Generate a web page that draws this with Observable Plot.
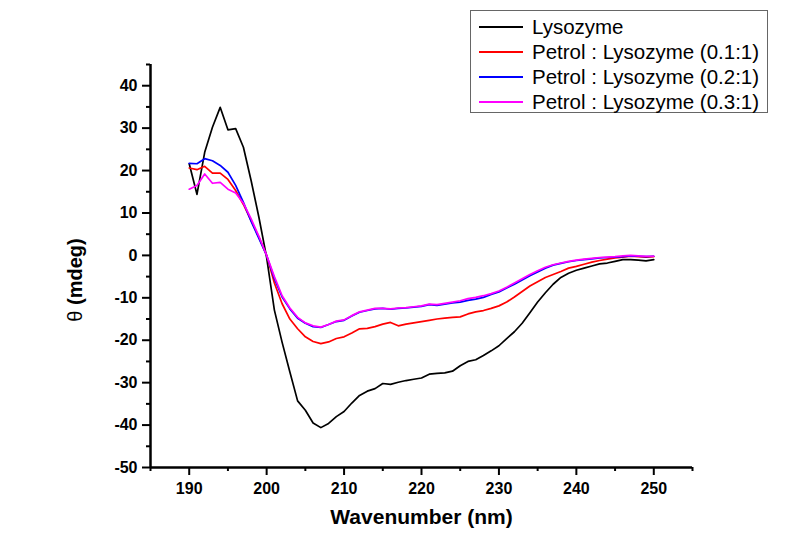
<!DOCTYPE html>
<html>
<head>
<meta charset="utf-8">
<script src="https://cdn.jsdelivr.net/npm/d3@7"></script>
<script src="https://cdn.jsdelivr.net/npm/@observablehq/plot@0.6"></script>
<style>
  body { margin: 0; background: #fff; }
  #wrap { position: relative; width: 787px; height: 551px; font-family: Arial, "Liberation Sans", sans-serif; }
  #legend { position: absolute; left: 470px; top: 10px; width: 298px; height: 103px; border: 1px solid #666; background: #fff; box-sizing: border-box; padding-top: 3px; }
  .row { display: flex; align-items: center; height: 25px; font-size: 20.5px; color: #000; }
  .sw { width: 44px; height: 0; border-top: 2px solid; margin-left: 8px; margin-right: 9px; }
  #ylabel { position: absolute; left: 75px; top: 280px; transform: translate(-50%, -50%) rotate(-90deg); white-space: nowrap; font-size: 20px; font-weight: bold; color: #000; line-height: 1; }
  #ylabel .th { font-weight: normal; }
</style>
</head>
<body>
<div id="wrap"></div>
<script>
const wavelengths = d3.range(190, 251, 1);
const seriesNames = ["Lysozyme", "Petrol : Lysozyme (0.1:1)", "Petrol : Lysozyme (0.2:1)", "Petrol : Lysozyme (0.3:1)"];
const seriesColors = ["#000000", "#ff0000", "#0000ff", "#ff00ff"];

const lysozyme = [21.6,14.4,24.3,30.2,34.9,29.6,29.9,25.5,17.6,9.0,
  -0.5,-12.9,-20.5,-27.5,-34.3,-36.5,-39.5,-40.6,-39.6,-38.0,
  -36.8,-34.8,-33.0,-32.0,-31.4,-30.2,-30.4,-29.9,-29.5,-29.2,
  -28.9,-28.0,-27.8,-27.7,-27.3,-26.0,-25.0,-24.6,-23.6,-22.5,
  -21.3,-19.6,-18.0,-16.0,-13.5,-11.0,-8.8,-6.8,-5.2,-4.2,
  -3.5,-3.0,-2.5,-2.0,-1.8,-1.4,-1.0,-1.0,-1.1,-1.3,-1.0];
const petrol01 = [20.6,20.2,21.0,19.4,19.4,17.9,15.3,12.0,8.2,4.3,
  0.0,-6.5,-11.4,-15.0,-17.3,-19.2,-20.3,-20.8,-20.4,-19.6,
  -19.2,-18.3,-17.3,-17.2,-16.8,-16.2,-15.8,-16.6,-16.2,-15.9,
  -15.6,-15.3,-15.0,-14.8,-14.6,-14.5,-13.8,-13.3,-13.0,-12.5,
  -11.9,-11.0,-9.8,-8.5,-7.2,-6.2,-5.2,-4.5,-3.8,-3.0,
  -2.6,-2.1,-1.6,-1.2,-0.9,-0.6,-0.4,-0.2,-0.3,-0.4,-0.3];
const petrol02 = [21.7,21.6,22.8,22.3,21.2,19.6,16.5,12.5,8.0,4.0,
  0.0,-5.5,-9.8,-12.6,-14.8,-16.0,-16.8,-17.0,-16.3,-15.6,
  -15.3,-14.3,-13.4,-13.0,-12.6,-12.5,-12.7,-12.5,-12.4,-12.2,
  -12.0,-11.6,-11.8,-11.5,-11.2,-11.0,-10.6,-10.3,-9.9,-9.2,
  -8.6,-7.7,-6.8,-5.8,-4.8,-3.9,-3.0,-2.3,-1.9,-1.5,
  -1.2,-1.0,-0.8,-0.6,-0.5,-0.4,-0.3,-0.1,-0.2,-0.3,-0.2];
const petrol03 = [15.6,16.5,19.2,17.0,17.2,15.6,14.7,12.3,8.6,4.5,
  0.0,-5.0,-9.5,-12.4,-14.6,-15.9,-16.6,-16.9,-16.3,-15.5,
  -15.2,-14.2,-13.3,-12.9,-12.5,-12.5,-12.6,-12.4,-12.3,-12.1,
  -11.9,-11.5,-11.6,-11.3,-11.0,-10.7,-10.2,-9.9,-9.5,-9.0,
  -8.4,-7.5,-6.5,-5.5,-4.5,-3.6,-2.8,-2.2,-1.8,-1.4,
  -1.1,-0.9,-0.7,-0.5,-0.4,-0.3,-0.1,0.0,-0.1,-0.2,-0.2];

const xMajor = [190, 200, 210, 220, 230, 240, 250];
const xMinor = [185, 195, 205, 215, 225, 235, 245, 255];
const yMajor = [-50, -40, -30, -20, -10, 0, 10, 20, 30, 40];
const yMinor = [-45, -35, -25, -15, -5, 5, 15, 25, 35, 45];
const xDomain = [185, 255];
const yDomain = [-50, 45];
const xTitle = "Wavenumber (nm)";
const yTitleSymbol = "θ";
const yTitleRest = " (mdeg)";

const allSeries = [lysozyme, petrol01, petrol02, petrol03];
const data = [];
allSeries.forEach((vals, i) => {
  vals.forEach((v, j) => data.push({x: wavelengths[j], y: v, s: seriesNames[i]}));
});

const plot = Plot.plot({
  width: 787,
  height: 551,
  marginLeft: 150,
  marginRight: 95,
  marginTop: 64,
  marginBottom: 84,
  style: {fontFamily: "Arial, 'Liberation Sans', sans-serif", background: "#fff", color: "#000"},
  x: {domain: xDomain},
  y: {domain: yDomain},
  color: {domain: seriesNames, range: seriesColors},
  marks: [
    Plot.axisX(xMinor, {tickSize: 4, tickFormat: () => "", strokeWidth: 2, label: null}),
    Plot.axisX(xMajor, {tickSize: 8, tickPadding: 7, fontSize: 16, fontWeight: "bold", strokeWidth: 2, label: null}),
    Plot.axisY(yMinor, {tickSize: 4, tickFormat: () => "", strokeWidth: 2, label: null}),
    Plot.axisY(yMajor, {tickSize: 8, tickPadding: 5, fontSize: 16, fontWeight: "bold", strokeWidth: 2, label: null, tickFormat: d => String(d)}),
    Plot.ruleX([xDomain[0]], {stroke: "#000", strokeWidth: 2.5}),
    Plot.ruleY([yDomain[0]], {stroke: "#000", strokeWidth: 2.5}),
    Plot.line(data, {x: "x", y: "y", z: "s", stroke: "s", strokeWidth: 1.7}),
    Plot.text([xTitle], {frameAnchor: "bottom", dy: 56, fontSize: 21, fontWeight: "bold", text: d => d})
  ]
});

const wrap = document.getElementById("wrap");
wrap.appendChild(plot);

const ylab = document.createElement("div");
ylab.id = "ylabel";
const th = document.createElement("span");
th.className = "th";
th.textContent = yTitleSymbol;
ylab.appendChild(th);
ylab.appendChild(document.createTextNode(yTitleRest));
wrap.appendChild(ylab);

const legend = document.createElement("div");
legend.id = "legend";
seriesNames.forEach((name, i) => {
  const row = document.createElement("div");
  row.className = "row";
  const sw = document.createElement("span");
  sw.className = "sw";
  sw.style.borderTopColor = seriesColors[i];
  const t = document.createElement("span");
  t.textContent = name;
  row.appendChild(sw);
  row.appendChild(t);
  legend.appendChild(row);
});
wrap.appendChild(legend);
</script>
</body>
</html>
